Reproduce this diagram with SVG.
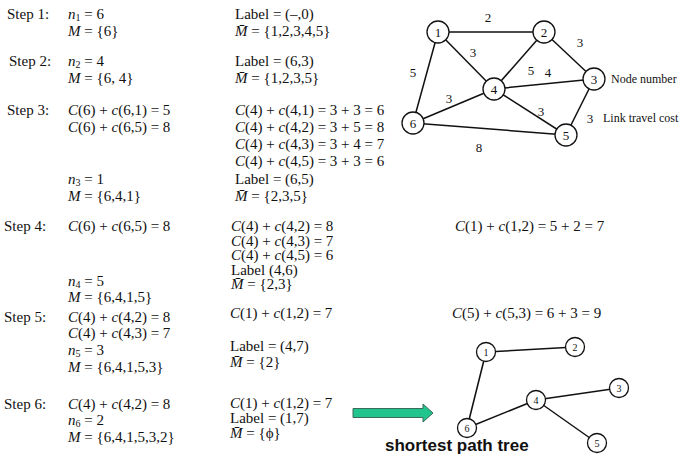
<svg xmlns="http://www.w3.org/2000/svg" width="694" height="457" viewBox="0 0 694 457">
<style>
text{font-family:"Liberation Serif","DejaVu Serif",serif;font-size:15px;fill:#111}
.i{font-style:italic}
.s{font-size:10px}
.e{font-size:13px;text-anchor:middle}
.lg{font-size:12px}
.nl{font-size:13px;text-anchor:middle}
.tl{font-size:10px;text-anchor:middle}
.ed line{stroke:#111;stroke-width:1.5}
circle{fill:#fff;stroke:#111;stroke-width:1.3}
.ttl{font-family:"Liberation Sans",Arial,sans-serif;font-weight:bold;font-size:17px}
</style>
<rect width="694" height="457" fill="#fff"/>
<g id="steps">
<text x="7" y="19">Step 1:</text>
<text x="68" y="19"><tspan class="i">n</tspan><tspan class="s" dy="2">1</tspan><tspan dy="-2"> = 6</tspan></text>
<text x="68" y="36"><tspan class="i">M</tspan> = {6}</text>
<text x="235" y="19">Label = (–,0)</text>
<text x="235" y="36"><tspan class="i">M̄</tspan> = {1,2,3,4,5}</text>

<text x="9" y="66">Step 2:</text>
<text x="68" y="66"><tspan class="i">n</tspan><tspan class="s" dy="2">2</tspan><tspan dy="-2"> = 4</tspan></text>
<text x="68" y="83"><tspan class="i">M</tspan> = {6, 4}</text>
<text x="235" y="66">Label = (6,3)</text>
<text x="235" y="83"><tspan class="i">M̄</tspan> = {1,2,3,5}</text>

<text x="7" y="115">Step 3:</text>
<text x="68" y="115"><tspan class="i">C</tspan>(6) + <tspan class="i">c</tspan>(6,1) = 5</text>
<text x="68" y="132"><tspan class="i">C</tspan>(6) + <tspan class="i">c</tspan>(6,5) = 8</text>
<text x="235" y="115"><tspan class="i">C</tspan>(4) + <tspan class="i">c</tspan>(4,1) = 3 + 3 = 6</text>
<text x="235" y="132"><tspan class="i">C</tspan>(4) + <tspan class="i">c</tspan>(4,2) = 3 + 5 = 8</text>
<text x="235" y="149"><tspan class="i">C</tspan>(4) + <tspan class="i">c</tspan>(4,3) = 3 + 4 = 7</text>
<text x="235" y="166"><tspan class="i">C</tspan>(4) + <tspan class="i">c</tspan>(4,5) = 3 + 3 = 6</text>
<text x="68" y="184"><tspan class="i">n</tspan><tspan class="s" dy="2">3</tspan><tspan dy="-2"> = 1</tspan></text>
<text x="68" y="201"><tspan class="i">M</tspan> = {6,4,1}</text>
<text x="235" y="184">Label = (6,5)</text>
<text x="235" y="201"><tspan class="i">M̄</tspan> = {2,3,5}</text>

<text x="4" y="231">Step 4:</text>
<text x="68" y="231"><tspan class="i">C</tspan>(6) + <tspan class="i">c</tspan>(6,5) = 8</text>
<text x="231" y="231"><tspan class="i">C</tspan>(4) + <tspan class="i">c</tspan>(4,2) = 8</text>
<text x="231" y="245.5"><tspan class="i">C</tspan>(4) + <tspan class="i">c</tspan>(4,3) = 7</text>
<text x="231" y="260"><tspan class="i">C</tspan>(4) + <tspan class="i">c</tspan>(4,5) = 6</text>
<text x="231" y="274.5">Label (4,6)</text>
<text x="231" y="289"><tspan class="i">M̄</tspan> = {2,3}</text>
<text x="455" y="231"><tspan class="i">C</tspan>(1) + <tspan class="i">c</tspan>(1,2) = 5 + 2 = 7</text>
<text x="68" y="286"><tspan class="i">n</tspan><tspan class="s" dy="2">4</tspan><tspan dy="-2"> = 5</tspan></text>
<text x="68" y="302"><tspan class="i">M</tspan> = {6,4,1,5}</text>

<text x="4" y="322">Step 5:</text>
<text x="68" y="322"><tspan class="i">C</tspan>(4) + <tspan class="i">c</tspan>(4,2) = 8</text>
<text x="68" y="338"><tspan class="i">C</tspan>(4) + <tspan class="i">c</tspan>(4,3) = 7</text>
<text x="68" y="355"><tspan class="i">n</tspan><tspan class="s" dy="2">5</tspan><tspan dy="-2"> = 3</tspan></text>
<text x="68" y="372"><tspan class="i">M</tspan> = {6,4,1,5,3}</text>
<text x="230" y="318"><tspan class="i">C</tspan>(1) + <tspan class="i">c</tspan>(1,2) = 7</text>
<text x="230" y="351">Label = (4,7)</text>
<text x="230" y="367"><tspan class="i">M̄</tspan> = {2}</text>
<text x="452" y="318"><tspan class="i">C</tspan>(5) + <tspan class="i">c</tspan>(5,3) = 6 + 3 = 9</text>

<text x="4" y="409">Step 6:</text>
<text x="68" y="409"><tspan class="i">C</tspan>(4) + <tspan class="i">c</tspan>(4,2) = 8</text>
<text x="68" y="425"><tspan class="i">n</tspan><tspan class="s" dy="2">6</tspan><tspan dy="-2"> = 2</tspan></text>
<text x="68" y="442"><tspan class="i">M</tspan> = {6,4,1,5,3,2}</text>
<text x="230" y="408"><tspan class="i">C</tspan>(1) + <tspan class="i">c</tspan>(1,2) = 7</text>
<text x="230" y="423">Label = (1,7)</text>
<text x="230" y="438"><tspan class="i">M̄</tspan> = {ϕ}</text>
</g>

<g id="connectors" class="ed">
<line x1="438" y1="32" x2="544" y2="32"/>
<line x1="438" y1="32" x2="413" y2="123"/>
<line x1="438" y1="32" x2="494" y2="89"/>
<line x1="544" y1="32" x2="594" y2="79"/>
<line x1="544" y1="32" x2="494" y2="89"/>
<line x1="494" y1="89" x2="594" y2="79"/>
<line x1="494" y1="89" x2="413" y2="123"/>
<line x1="494" y1="89" x2="566" y2="135"/>
<line x1="594" y1="79" x2="566" y2="135"/>
<line x1="413" y1="123" x2="566" y2="135"/>
<line x1="486" y1="352" x2="575" y2="347"/>
<line x1="486" y1="352" x2="467" y2="428"/>
<line x1="467" y1="428" x2="536" y2="400"/>
<line x1="536" y1="400" x2="619" y2="388"/>
<line x1="536" y1="400" x2="597" y2="443"/>
</g>

<g id="edge-labels">
<text class="e" x="488" y="22">2</text>
<text class="e" x="580" y="47">3</text>
<text class="e" x="473" y="57">3</text>
<text class="e" x="531" y="75">5</text>
<text class="e" x="548" y="77">4</text>
<text class="e" x="413" y="77">5</text>
<text class="e" x="449" y="103">3</text>
<text class="e" x="541" y="116">3</text>
<text class="e" x="479" y="152">8</text>
<text class="e" x="590" y="123">3</text>
<text class="lg" x="611" y="83">Node number</text>
<text class="lg" x="603" y="122">Link travel cost</text>
</g>

<g id="node-1"><circle cx="438" cy="32" r="11"/><text class="nl" x="438" y="36.5">1</text></g>
<g id="node-2"><circle cx="544" cy="32" r="11"/><text class="nl" x="544" y="36.5">2</text></g>
<g id="node-3"><circle cx="594" cy="79" r="11"/><text class="nl" x="594" y="83.5">3</text></g>
<g id="node-4"><circle cx="494" cy="89" r="11"/><text class="nl" x="494" y="93.5">4</text></g>
<g id="node-5"><circle cx="566" cy="135" r="11"/><text class="nl" x="566" y="139.5">5</text></g>
<g id="node-6"><circle cx="413" cy="123" r="11"/><text class="nl" x="413" y="127.5">6</text></g>

<g id="tree-node-1"><circle cx="486" cy="352" r="9.5"/><text class="tl" x="486" y="355.5">1</text></g>
<g id="tree-node-2"><circle cx="575" cy="347" r="9.5"/><text class="tl" x="575" y="350.5">2</text></g>
<g id="tree-node-3"><circle cx="619" cy="388" r="9.5"/><text class="tl" x="619" y="391.5">3</text></g>
<g id="tree-node-4"><circle cx="536" cy="400" r="9.5"/><text class="tl" x="536" y="403.5">4</text></g>
<g id="tree-node-5"><circle cx="597" cy="443" r="9.5"/><text class="tl" x="597" y="446.5">5</text></g>
<g id="tree-node-6"><circle cx="467" cy="428" r="9.5"/><text class="tl" x="467" y="431.5">6</text></g>

<g id="arrow">
<polygon points="353,408.5 423,408.5 423,404 433,413 423,422 423,417.5 353,417.5" fill="#22c48e" stroke="#3d6b5a" stroke-width="1"/>
</g>
<text class="ttl" x="385" y="451">shortest path tree</text>
</svg>
